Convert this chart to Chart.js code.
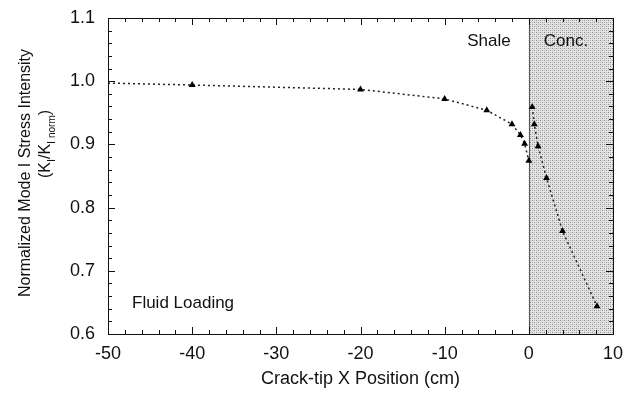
<!DOCTYPE html>
<html>
<head>
<meta charset="utf-8">
<script src="https://cdn.jsdelivr.net/npm/chart.js@4.4.0/dist/chart.umd.min.js"></script>
<style>
  html, body { margin: 0; padding: 0; background: #fff; }
  #wrap { width: 626px; height: 393px; position: relative; }
</style>
</head>
<body>
<div id="wrap"><canvas id="grafico"></canvas></div>
<script>
/* dados */
const xShale = [-50, -40, -20, -10, -5, -2, -1, -0.5, 0];
const yShale = [0.997, 0.994, 0.987, 0.972, 0.954, 0.932, 0.915, 0.901, 0.874];
const xConc = [0.4, 0.65, 1.1, 2.1, 4.0, 8.1];
const yConc = [0.959, 0.932, 0.897, 0.847, 0.763, 0.644];
const xTicks = [-50, -40, -30, -20, -10, 0, 10];
const yTicks = [0.6, 0.7, 0.8, 0.9, 1.0, 1.1];

const fonte = "'Liberation Sans', Arial, sans-serif";

function pontos(xs, ys) {
  return xs.map((x, i) => ({ x: x, y: ys[i] }));
}

/* padrao pontilhado da regiao do concreto */
function padrao() {
  const c = document.createElement("canvas");
  c.width = 4; c.height = 4;
  const g = c.getContext("2d");
  g.fillStyle = "#e4e4e4";
  g.fillRect(0, 0, 4, 4);
  g.fillStyle = "#8c8c8c";
  g.fillRect(0, 0, 1, 1);
  g.fillRect(2, 2, 1, 1);
  g.fillStyle = "#b8b8b8";
  g.fillRect(2, 0, 1, 1);
  g.fillRect(0, 2, 1, 1);
  return c;
}

const sombra = {
  id: "sombra",
  beforeDatasetsDraw(chart) {
    const { ctx, chartArea, scales } = chart;
    const x0 = scales.x.getPixelForValue(0);
    ctx.save();
    ctx.fillStyle = ctx.createPattern(padrao(), "repeat");
    ctx.fillRect(x0, chartArea.top, chartArea.right - x0, chartArea.bottom - chartArea.top);
    ctx.strokeStyle = "#555";
    ctx.lineWidth = 1;
    ctx.beginPath();
    ctx.moveTo(Math.round(x0) + 0.5, chartArea.top);
    ctx.lineTo(Math.round(x0) + 0.5, chartArea.bottom);
    ctx.stroke();
    ctx.restore();
  }
};

/* moldura e marcas para dentro */
const moldura = {
  id: "moldura",
  afterDatasetsDraw(chart) {
    const { ctx, chartArea: a, scales } = chart;
    ctx.save();
    ctx.strokeStyle = "#111";
    ctx.lineWidth = 1;
    ctx.strokeRect(Math.round(a.left) + 0.5, Math.round(a.top) + 0.5,
      Math.round(a.right - a.left), Math.round(a.bottom - a.top));
    ctx.beginPath();
    for (let v = -50; v <= 10.001; v += 2) {
      const px = Math.round(scales.x.getPixelForValue(v)) + 0.5;
      const len = Math.abs(v % 10) < 0.01 ? 7 : 4;
      ctx.moveTo(px, a.bottom); ctx.lineTo(px, a.bottom - len);
      ctx.moveTo(px, a.top); ctx.lineTo(px, a.top + len);
    }
    for (let k = 0; k <= 25; k++) {
      const v = 0.6 + k * 0.02;
      const py = Math.round(scales.y.getPixelForValue(v)) + 0.5;
      const len = k % 5 === 0 ? 7 : 4;
      ctx.moveTo(a.left, py); ctx.lineTo(a.left + len, py);
      ctx.moveTo(a.right, py); ctx.lineTo(a.right - len, py);
    }
    ctx.stroke();

    ctx.fillStyle = "#111";
    ctx.font = "17px " + fonte;
    ctx.textAlign = "center";
    ctx.textBaseline = "middle";
    ctx.fillText("Shale", 489, 41);
    ctx.fillText("Conc.", 566, 41);
    ctx.textAlign = "left";
    ctx.fillText("Fluid Loading", 132, 303);
    ctx.restore();
  }
};

/* titulo do eixo y com subscritos */
const tituloY = {
  id: "tituloY",
  afterDraw(chart) {
    const { ctx } = chart;
    ctx.save();
    ctx.fillStyle = "#111";
    ctx.textBaseline = "middle";
    ctx.translate(26, 173);
    ctx.rotate(-Math.PI / 2);
    ctx.font = "16px " + fonte;
    ctx.textAlign = "center";
    ctx.fillText("Normalized Mode I Stress Intensity", 0, 0);
    ctx.restore();

    const partes = [
      { t: "(K", f: "16px", d: 0 },
      { t: "I", f: "11px", d: 6 },
      { t: "/K", f: "16px", d: 0 },
      { t: "I", f: "11px", d: 6 },
      { t: " norm", f: "10px", d: 6 },
      { t: ")", f: "16px", d: 0 }
    ];
    ctx.save();
    let total = 0;
    partes.forEach(p => { ctx.font = p.f + " " + fonte; p.w = ctx.measureText(p.t).width; total += p.w; });
    ctx.fillStyle = "#111";
    ctx.textBaseline = "middle";
    ctx.textAlign = "left";
    ctx.translate(46, 144);
    ctx.rotate(-Math.PI / 2);
    let pos = -total / 2;
    partes.forEach(p => {
      ctx.font = p.f + " " + fonte;
      ctx.fillText(p.t, pos, p.d);
      pos += p.w;
    });
    ctx.restore();
  }
};

const estiloLinha = {
  showLine: true,
  borderColor: "#222",
  borderWidth: 1.5,
  borderDash: [2, 3],
  backgroundColor: "#000",
  pointStyle: "triangle",
  pointBorderColor: "#000",
  pointBorderWidth: 0,
  tension: 0
};

const config = {
  type: "scatter",
  data: {
    datasets: [
      Object.assign({
        label: "Shale",
        data: pontos(xShale, yShale),
        pointRadius: xShale.map(x => (x === -50 ? 0 : 4))
      }, estiloLinha),
      Object.assign({
        label: "Conc.",
        data: pontos(xConc, yConc),
        pointRadius: 4
      }, estiloLinha)
    ]
  },
  options: {
    responsive: true,
    maintainAspectRatio: false,
    animation: false,
    layout: { padding: { left: 0, right: 13, top: 18, bottom: 0 } },
    plugins: {
      legend: { display: false },
      tooltip: { enabled: false }
    },
    scales: {
      x: {
        type: "linear",
        min: -50,
        max: 10,
        afterBuildTicks(s) { s.ticks = xTicks.map(v => ({ value: v })); },
        afterFit(s) { s.height = 59; s.paddingLeft = 0; s.paddingRight = 0; },
        grid: { display: false, drawTicks: false },
        border: { display: false },
        ticks: {
          color: "#111",
          padding: 9,
          maxRotation: 0,
          font: { family: fonte, size: 18 },
          callback: v => String(v)
        },
        title: {
          display: true,
          text: "Crack-tip X Position (cm)",
          color: "#111",
          font: { family: fonte, size: 18 },
          padding: { top: 0, bottom: 3 }
        }
      },
      y: {
        type: "linear",
        min: 0.6,
        max: 1.1,
        afterBuildTicks(s) { s.ticks = yTicks.map(v => ({ value: v })); },
        afterFit(s) { s.width = 108; s.paddingTop = 0; s.paddingBottom = 0; },
        grid: { display: false, drawTicks: false },
        border: { display: false },
        ticks: {
          color: "#111",
          padding: 13,
          font: { family: fonte, size: 18 },
          callback: v => Number(v).toFixed(1)
        }
      }
    }
  },
  plugins: [sombra, moldura, tituloY]
};

const grafico = new Chart(document.getElementById("grafico"), config);
</script>
</body>
</html>
